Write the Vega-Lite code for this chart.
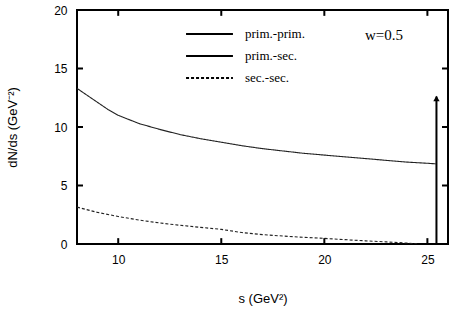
{
  "$schema": "https://vega.github.io/schema/vega-lite/v6.json",
  "autosize": "none",
  "width": 371,
  "height": 234,
  "padding": {"left": 77, "top": 10, "right": 15, "bottom": 72},
  "background": "white",
  "config": {
    "view": {"stroke": "black", "strokeWidth": 2},
    "axis": {
      "domain": false,
      "ticks": false,
      "grid": false,
      "labelFont": "Liberation Sans",
      "labelFontSize": 12,
      "labelColor": "black",
      "titleFont": "Liberation Sans",
      "titleFontSize": 13,
      "titleFontWeight": "normal",
      "titleColor": "black"
    }
  },
  "datasets": {
    "curves": [
      {"series": "prim.-sec.", "s": 8.0, "v": 13.3},
      {"series": "prim.-sec.", "s": 8.5, "v": 12.7},
      {"series": "prim.-sec.", "s": 9.0, "v": 12.1},
      {"series": "prim.-sec.", "s": 9.5, "v": 11.5},
      {"series": "prim.-sec.", "s": 10.0, "v": 11.0},
      {"series": "prim.-sec.", "s": 11.0, "v": 10.3},
      {"series": "prim.-sec.", "s": 12.0, "v": 9.8},
      {"series": "prim.-sec.", "s": 13.0, "v": 9.35},
      {"series": "prim.-sec.", "s": 14.0, "v": 9.0},
      {"series": "prim.-sec.", "s": 15.0, "v": 8.7},
      {"series": "prim.-sec.", "s": 16.0, "v": 8.4},
      {"series": "prim.-sec.", "s": 17.0, "v": 8.15},
      {"series": "prim.-sec.", "s": 18.0, "v": 7.95},
      {"series": "prim.-sec.", "s": 19.0, "v": 7.75},
      {"series": "prim.-sec.", "s": 20.0, "v": 7.6},
      {"series": "prim.-sec.", "s": 21.0, "v": 7.45},
      {"series": "prim.-sec.", "s": 22.0, "v": 7.3},
      {"series": "prim.-sec.", "s": 23.0, "v": 7.15},
      {"series": "prim.-sec.", "s": 24.0, "v": 7.0},
      {"series": "prim.-sec.", "s": 25.0, "v": 6.9},
      {"series": "prim.-sec.", "s": 25.4, "v": 6.85},
      {"series": "sec.-sec.", "s": 8.0, "v": 3.15},
      {"series": "sec.-sec.", "s": 9.0, "v": 2.7},
      {"series": "sec.-sec.", "s": 10.0, "v": 2.35},
      {"series": "sec.-sec.", "s": 11.0, "v": 2.05},
      {"series": "sec.-sec.", "s": 12.0, "v": 1.8},
      {"series": "sec.-sec.", "s": 13.0, "v": 1.6},
      {"series": "sec.-sec.", "s": 14.0, "v": 1.42},
      {"series": "sec.-sec.", "s": 15.0, "v": 1.25},
      {"series": "sec.-sec.", "s": 16.0, "v": 0.98},
      {"series": "sec.-sec.", "s": 17.0, "v": 0.8},
      {"series": "sec.-sec.", "s": 18.0, "v": 0.68},
      {"series": "sec.-sec.", "s": 19.0, "v": 0.57},
      {"series": "sec.-sec.", "s": 20.0, "v": 0.48},
      {"series": "sec.-sec.", "s": 21.0, "v": 0.37},
      {"series": "sec.-sec.", "s": 22.0, "v": 0.27},
      {"series": "sec.-sec.", "s": 23.0, "v": 0.18},
      {"series": "sec.-sec.", "s": 24.0, "v": 0.08},
      {"series": "sec.-sec.", "s": 24.5, "v": 0.02}
    ],
    "delta": [
      {"series": "prim.-prim.", "s": 25.44, "v0": 0, "v1": 12.6}
    ],
    "xticks": [{"t": 10}, {"t": 15}, {"t": 20}, {"t": 25}],
    "yticks": [{"t": 0}, {"t": 5}, {"t": 10}, {"t": 15}, {"t": 20}]
  },
  "layer": [
    {
      "data": {"name": "curves"},
      "mark": {"type": "line", "color": "#222", "strokeWidth": 1.1, "clip": true},
      "encoding": {
        "x": {
          "field": "s", "type": "quantitative",
          "scale": {"domain": [8, 26], "nice": false, "zero": false},
          "axis": {"values": [10, 15, 20, 25], "title": "s (GeV²)", "labelPadding": 10, "titlePadding": 27}
        },
        "y": {
          "field": "v", "type": "quantitative",
          "scale": {"domain": [0, 20], "nice": false},
          "axis": {"values": [0, 5, 10, 15, 20], "title": "dN/ds (GeV⁻²)", "labelPadding": 10, "titlePadding": 34}
        },
        "detail": {"field": "series"},
        "strokeDash": {
          "field": "series", "type": "nominal",
          "scale": {"domain": ["prim.-prim.", "prim.-sec.", "sec.-sec."], "range": [[1, 0], [1, 0], [3, 2]]},
          "legend": {
            "title": null,
            "orient": "none",
            "legendX": 108,
            "legendY": 17,
            "symbolType": "stroke",
            "symbolSize": 2200,
            "symbolStrokeWidth": 2,
            "symbolStrokeColor": "black",
            "labelFont": "Liberation Serif",
            "labelFontSize": 13,
            "labelColor": "black",
            "labelOffset": 11,
            "clipHeight": 14,
            "rowPadding": 8
          }
        }
      }
    },
    {
      "data": {"name": "xticks"},
      "mark": {"type": "rule", "color": "black", "strokeWidth": 2},
      "encoding": {
        "x": {"field": "t", "type": "quantitative", "axis": null},
        "y": {"datum": 0, "type": "quantitative", "axis": null},
        "y2": {"datum": 0.5}
      }
    },
    {
      "data": {"name": "xticks"},
      "mark": {"type": "rule", "color": "black", "strokeWidth": 2},
      "encoding": {
        "x": {"field": "t", "type": "quantitative", "axis": null},
        "y": {"datum": 20, "type": "quantitative", "axis": null},
        "y2": {"datum": 19.5}
      }
    },
    {
      "data": {"name": "yticks"},
      "mark": {"type": "rule", "color": "black", "strokeWidth": 2},
      "encoding": {
        "y": {"field": "t", "type": "quantitative", "axis": null},
        "x": {"datum": 8, "type": "quantitative", "axis": null},
        "x2": {"datum": 8.29}
      }
    },
    {
      "data": {"name": "yticks"},
      "mark": {"type": "rule", "color": "black", "strokeWidth": 2},
      "encoding": {
        "y": {"field": "t", "type": "quantitative", "axis": null},
        "x": {"datum": 26, "type": "quantitative", "axis": null},
        "x2": {"datum": 25.71}
      }
    },
    {
      "data": {"name": "delta"},
      "mark": {"type": "rule", "color": "black", "strokeWidth": 2},
      "encoding": {
        "x": {"field": "s", "type": "quantitative", "axis": null},
        "y": {"field": "v0", "type": "quantitative", "axis": null},
        "y2": {"field": "v1"},
        "strokeDash": {"field": "series", "type": "nominal"}
      }
    },
    {
      "data": {"name": "delta"},
      "mark": {"type": "point", "shape": "triangle-up", "filled": true, "color": "black", "size": 40, "opacity": 1, "yOffset": 2},
      "encoding": {
        "x": {"field": "s", "type": "quantitative", "axis": null},
        "y": {"field": "v1", "type": "quantitative", "axis": null}
      }
    },
    {
      "data": {"values": [{"label": "w=0.5"}]},
      "mark": {"type": "text", "font": "Liberation Serif", "fontSize": 15, "color": "black", "align": "left", "baseline": "middle"},
      "encoding": {
        "x": {"datum": 21.97, "type": "quantitative", "axis": null},
        "y": {"datum": 17.9, "type": "quantitative", "axis": null},
        "text": {"field": "label"}
      }
    }
  ],
  "resolve": {"axis": {"x": "independent", "y": "independent"}}
}
